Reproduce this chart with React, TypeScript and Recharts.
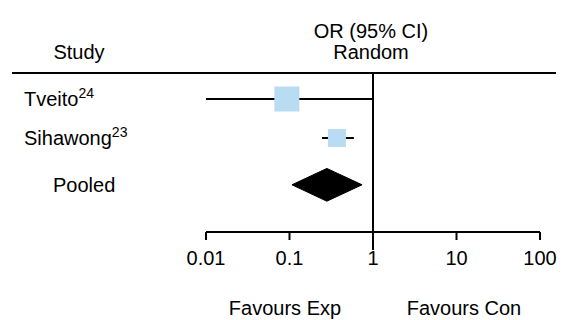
import React from 'react';
import {
  ComposedChart,
  Scatter,
  XAxis,
  YAxis,
  ErrorBar,
  ReferenceLine,
} from 'recharts';

// study rows
const studies = ['Tveito', 'Sihawong'];
const refs = ['24', '23'];
const oddsRatios = [0.093, 0.37];
const ciLower = [0.01, 0.245];
const ciUpper = [1.02, 0.59];

// pooled estimate (random effects)
const pooledLabel = 'Pooled';
const pooledOR = 0.28;
const pooledLower = 0.107;
const pooledUpper = 0.74;

const xTicks = [0.01, 0.1, 1, 10, 100];
const rowY = [1, 2, 3.2];

const FONT = '"Liberation Sans", Arial, Helvetica, sans-serif';
const BOX_SIZES = [25, 18];
const BOX_FILL = '#b8dcf2';
const DIAMOND_HALF = 0.42;
const Y_DOMAIN: [number, number] = [0.333, 4.41];

const studyData = studies.map((name, i) => ({
  name,
  idx: i,
  x: oddsRatios[i],
  y: rowY[i],
  err: [oddsRatios[i] - ciLower[i], ciUpper[i] - oddsRatios[i]],
}));

const py = rowY[2];
const diamondData = [
  { x: pooledLower, y: py },
  { x: pooledOR, y: py - DIAMOND_HALF },
  { x: pooledUpper, y: py },
  { x: pooledOR, y: py + DIAMOND_HALF },
  { x: pooledLower, y: py },
];

const rowLabels = [
  ...studies.map((s, i) => ({ text: s, sup: refs[i], indent: false })),
  { text: pooledLabel, sup: '', indent: true },
];

const Box = (props: any) => {
  const { cx, cy, payload } = props;
  const s = BOX_SIZES[payload.idx];
  return <rect x={cx - s / 2} y={cy - s / 2} width={s} height={s} fill={BOX_FILL} />;
};

const RowTick = (props: any) => {
  const { y, index } = props;
  const row = rowLabels[index];
  if (!row) return null;
  return (
    <text x={row.indent ? 53 : 24} y={y} dy={7} fontSize={20} fill="#000" fontFamily={FONT} textAnchor="start">
      <tspan>{row.text}</tspan>
      {row.sup && (
        <tspan dy={-8} fontSize={14}>
          {row.sup}
        </tspan>
      )}
    </text>
  );
};

export default function App() {
  return (
    <div style={{ position: 'absolute', left: 0, top: 0, width: 564, height: 320, background: '#fff', fontFamily: FONT }}>
      <ComposedChart
        width={564}
        height={320}
        margin={{ top: 73, right: 24, bottom: 28, left: 0 }}
      >
        <XAxis
          dataKey="x"
          type="number"
          scale="log"
          domain={[0.01, 100]}
          ticks={xTicks}
          allowDataOverflow
          height={60}
          tickFormatter={(v) => String(v)}
          tick={{ fill: '#000', fontSize: 20, fontFamily: FONT }}
          axisLine={{ stroke: '#000', strokeWidth: 2 }}
          tickLine={{ stroke: '#000', strokeWidth: 2 }}
          tickSize={8}
          tickMargin={11}
        />
        <YAxis
          dataKey="y"
          type="number"
          domain={Y_DOMAIN}
          reversed
          ticks={rowY}
          width={206}
          axisLine={false}
          tickLine={false}
          tick={<RowTick />}
        />
        <ReferenceLine
          segment={[{ x: 1, y: Y_DOMAIN[0] }, { x: 1, y: 4.87 }]}
          stroke="#000"
          strokeWidth={2}
          ifOverflow="visible"
        />
        <Scatter data={studyData} shape={<Box />} isAnimationActive={false}>
          <ErrorBar dataKey="err" direction="x" width={0} stroke="#000" strokeWidth={2} />
        </Scatter>
        <Scatter
          data={diamondData}
          line={{ stroke: '#000', fill: '#000', strokeWidth: 1 }}
          lineType="joint"
          shape={() => <g />}
          isAnimationActive={false}
        />
      </ComposedChart>
      <svg
        width={564}
        height={320}
        style={{ position: 'absolute', left: 0, top: 0, pointerEvents: 'none' }}
        fontFamily={FONT}
        fontSize={20}
      >
        <text x={371} y={38} textAnchor="middle">OR (95% CI)</text>
        <text x={371} y={59} textAnchor="middle">Random</text>
        <text x={79} y={59} textAnchor="middle">Study</text>
        <line x1={12} x2={556} y1={73} y2={73} stroke="#000" strokeWidth={2} />
        <text x={285} y={315} textAnchor="middle">Favours Exp</text>
        <text x={464} y={315} textAnchor="middle">Favours Con</text>
      </svg>
    </div>
  );
}
